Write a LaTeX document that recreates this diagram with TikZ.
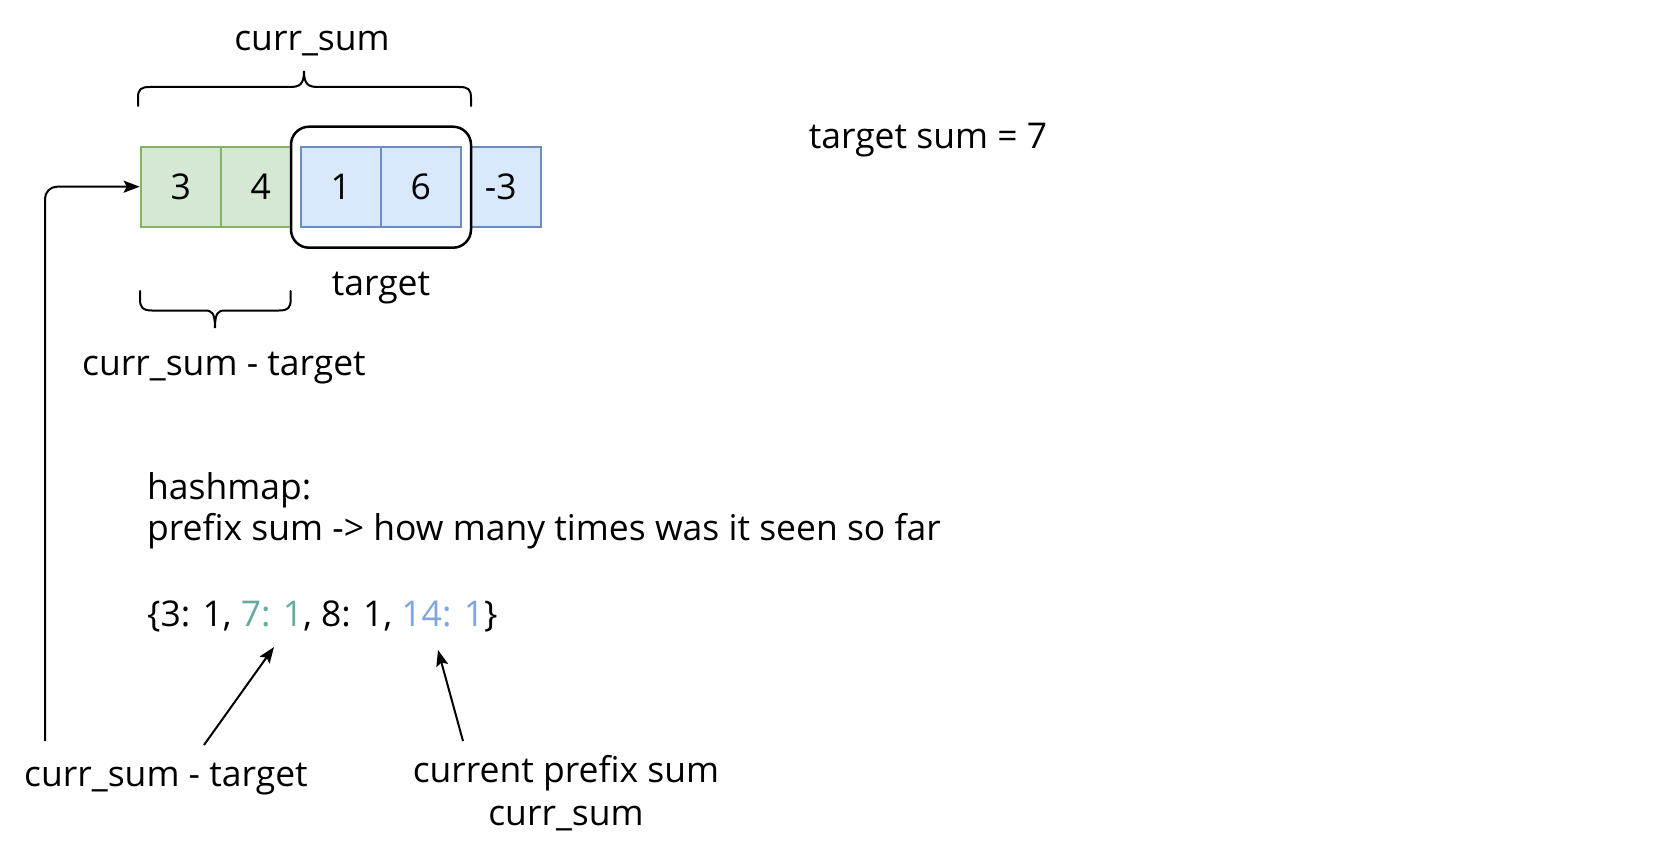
\documentclass[tikz,border=0pt]{standalone}
\usepackage{fontspec}
\setmainfont{Open Sans}
\usetikzlibrary{arrows.meta}
\definecolor{gfill}{HTML}{D5E8D4}
\definecolor{gline}{HTML}{82B366}
\definecolor{bfill}{HTML}{DAE8FC}
\definecolor{bline}{HTML}{6C8EBF}
\definecolor{tealtxt}{HTML}{67AB9F}
\definecolor{bluetxt}{HTML}{7EA6E0}
\begin{document}
\begin{tikzpicture}[x=1pt,y=-1pt,
  font=\fontsize{35.5}{42}\selectfont,
  cellbox/.style={draw, line width=2pt, minimum width=80pt, minimum height=80pt, inner sep=0pt},
  gcell/.style={cellbox, fill=gfill, draw=gline},
  bcell/.style={cellbox, fill=bfill, draw=bline},
  lbl/.style={inner sep=0pt, anchor=center},
  brace/.style={draw, line width=2pt, line cap=round},
  arr/.style={draw, line width=2pt, -{Stealth[length=16pt,width=12pt,inset=3pt]}}
]
\useasboundingbox (0,0) rectangle (1668,848);
% cells
\node[gcell] (c1) at (180.7,186.7) {\raisebox{-2pt}{3}};
\node[gcell] (c2) at (260.7,186.7) {\raisebox{-2pt}{4}};
\node[bcell] (c5) at (500.7,186.7) {\raisebox{-2pt}{-3}};
\node[draw, fill=white, line width=2.5pt, rounded corners=18pt, minimum width=180pt, minimum height=121pt, inner sep=0pt] (sel) at (381,187.2) {};
\node[bcell] (c3) at (340.7,186.7) {\raisebox{-2pt}{1}};
\node[bcell] (c4) at (420.7,186.7) {\raisebox{-2pt}{6}};
% top brace
\draw[brace] (138,106) -- (138,98) .. controls (138,89) and (141,87) .. (150,87)
  -- (290,87) .. controls (300,87) and (304,84) .. (304,71)
  .. controls (304,84) and (308,87) .. (318,87)
  -- (459,87) .. controls (468,87) and (471,89) .. (471,98) -- (471,106);
% bottom brace
\draw[brace] (140,291) -- (140,299) .. controls (140,308) and (143,310.5) .. (152,310.5)
  -- (205,310.5) .. controls (212,310.5) and (215,313) .. (215,328)
  .. controls (215,313) and (218,310.5) .. (225,310.5)
  -- (279,310.5) .. controls (288,310.5) and (290.7,308) .. (290.7,299) -- (290.7,291);
% labels
\node[lbl] (ltop) at (312,44) {curr\_sum};
\node[lbl] (ltarget) at (381,288) {target};
\node[lbl] (ldiff) at (224,368) {curr\_sum - target};
\node[lbl] (ltsum) at (928,140) {target sum = 7};
\node[lbl, anchor=west] (hm1) at (147,490) {hashmap:};
\node[lbl, anchor=west] (hm2) at (147,531) {prefix sum -> how many times was it seen so far};
\node[lbl, anchor=west] (hm3) at (147,616) {\{3: 1, \textcolor{tealtxt}{7: 1}, 8: 1, \textcolor{bluetxt}{14: 1}\}};
\node[lbl] (lbl1) at (166,779) {curr\_sum - target};
\node[lbl, align=center, font=\fontsize{35.5}{43}\selectfont] (lbl2) at (566,793) {current prefix sum\\curr\_sum};
% connectors
\coordinate (ls) at (45,741);
\draw[arr, rounded corners=12pt] (ls) |- (c1.west);
\coordinate (a1s) at (204,745);
\coordinate (a1e) at (274,647);
\draw[arr] (a1s) -- (a1e);
\coordinate (a2s) at (463,741);
\coordinate (a2e) at (438,650);
\draw[arr] (a2s) -- (a2e);
\end{tikzpicture}
\end{document}
